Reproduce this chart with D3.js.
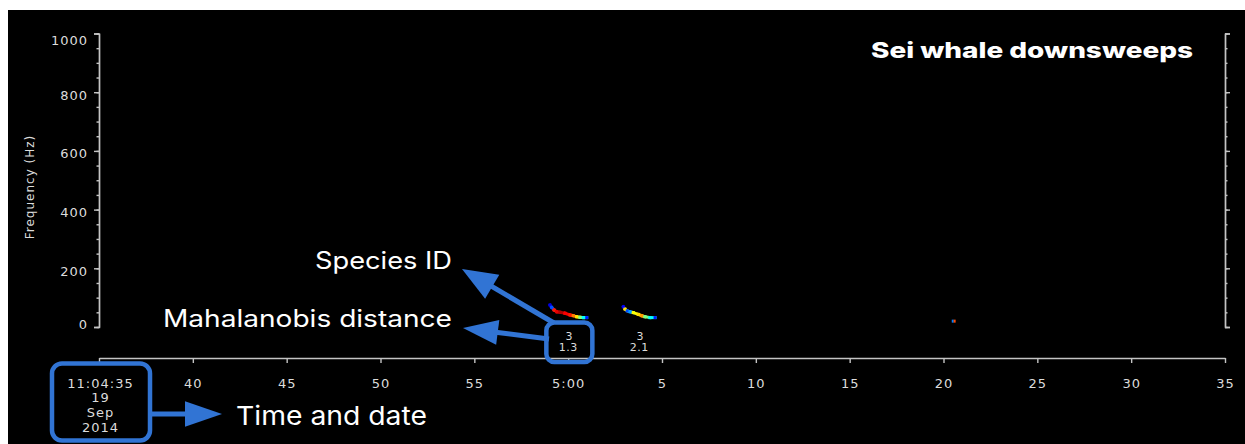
<!DOCTYPE html>
<html>
<head>
<meta charset="utf-8">
<script src="https://cdn.jsdelivr.net/npm/d3@7"></script>
<style>
  html, body { margin: 0; padding: 0; background: #fff; }
  svg { display: block; }
</style>
</head>
<body>
<svg id="chart" width="1245" height="444"></svg>
<script>
// ---------------- DATA ----------------
const startTime = new Date(2014, 8, 19, 11, 4, 35);
const endTime   = new Date(2014, 8, 19, 11, 5, 35);
const freqMajorTicks = [0, 200, 400, 600, 800, 1000];
const freqMinorTicks = d3.range(0, 1001, 50);
const freqTickLabels = ["0", "200", "400", "600", "800", "1000"];
const timeTickStepSec = 5;
const dateLabelLines = ["11:04:35", "19", "Sep", "2014"];

// detection contours: [seconds after start, frequency Hz, intensity 0..1]
const det1Points = [
  [24.03, 75, 0.10], [24.12, 67, 0.20], [24.25, 58, 0.85], [24.39, 52, 0.90],
  [24.57, 50, 0.95], [24.83, 47, 0.88], [25.10, 41, 0.85], [25.27, 38.5, 0.75],
  [25.45, 35, 0.65], [25.63, 33, 0.50], [25.81, 32, 0.38], [25.99, 32, 0.15]
];
const det2Points = [
  [27.94, 69, 0.12], [28.03, 61, 0.65], [28.15, 55, 0.20], [28.29, 52, 0.28],
  [28.47, 49, 0.62], [28.74, 43, 0.66], [28.92, 38.5, 0.72], [29.09, 35, 0.50],
  [29.36, 32, 0.38], [29.63, 32, 0.15]
];
const det3Points = [
  [45.52, 20, 0.25], [45.62, 20, 0.80]
];
const detectionSpecies = ["3", "3"];
const detectionDistance = ["1.3", "2.1"];
const titleText = "Sei whale downsweeps";
const yTitle = "Frequency (Hz)";

// ---------------- LAYOUT ----------------
const svg = d3.select("#chart");
const plotLeft = 99, plotRight = 1225, yTop = 33.5, yBottom = 327, xAxisY = 358;
const axisColor = "#c4c4c4", textColor = "#dcdcdc", blue = "#3174d4";

svg.append("rect").attr("x", 8).attr("y", 10).attr("width", 1237).attr("height", 434).attr("fill", "#000");

const x = d3.scaleTime().domain([startTime, endTime]).range([plotLeft, plotRight]);
const y = d3.scaleLinear().domain([0, 1000]).range([yBottom, yTop]);
const tsec = s => new Date(startTime.getTime() + s * 1000);

// ---- Y axis left (minor) ----
svg.append("g").attr("transform", `translate(${plotLeft},0)`)
  .call(d3.axisLeft(y).tickValues(freqMinorTicks).tickSize(2.5).tickSizeOuter(0).tickFormat(""));
const gL = svg.append("g").attr("transform", `translate(${plotLeft},0)`)
  .call(d3.axisLeft(y).tickValues(freqMajorTicks).tickSize(5).tickSizeOuter(5)
    .tickFormat((d, i) => freqTickLabels[i]));
gL.selectAll("text")
  .attr("x", -11)
  .attr("dy", null)
  .attr("y", d => (d === 1000 ? 6.5 : d === 0 ? -3 : 2.3) + 4.7)
  .style("font-family", "DejaVu Sans").style("font-size", "13px")
  .style("letter-spacing", "1px").attr("fill", textColor);

// ---- Y axis right ----
svg.append("g").attr("transform", `translate(${plotRight},0)`)
  .call(d3.axisRight(y).tickValues(freqMinorTicks).tickSize(2.5).tickSizeOuter(0).tickFormat(""));
svg.append("g").attr("transform", `translate(${plotRight},0)`)
  .call(d3.axisRight(y).tickValues(freqMajorTicks).tickSize(5).tickSizeOuter(5).tickFormat(""));

// ---- X axis ----
const xTicks = d3.timeSecond.every(timeTickStepSec).range(startTime, new Date(endTime.getTime() + 1));
const gX = svg.append("g").attr("transform", `translate(0,${xAxisY})`)
  .call(d3.axisBottom(x).tickValues(xTicks).tickSize(5).tickSizeOuter(0).tickFormat(""));
gX.selectAll(".tick").each(function (d, i) {
  const t = d3.select(this).append("text")
    .attr("fill", textColor).attr("text-anchor", "middle")
    .style("font-family", "DejaVu Sans").style("font-size", "13px")
    .style("letter-spacing", "1px");
  if (i === 0) {
    dateLabelLines.forEach((line, j) => {
      t.append("tspan").attr("x", 1).attr("y", 29.7 + j * 14.7).text(line);
    });
  } else {
    const s = d.getSeconds();
    t.attr("x", 0).attr("y", 29.7).text(s === 0 ? `${d.getMinutes()}:00` : String(s));
  }
});

// style axes
svg.selectAll(".domain, .tick line").attr("stroke", axisColor).attr("stroke-width", 1.4);

// ---- Y title ----
svg.append("text")
  .attr("transform", "translate(34,187) rotate(-90)")
  .attr("text-anchor", "middle").attr("fill", textColor)
  .style("font-family", "DejaVu Sans").style("font-size", "12px").style("letter-spacing", "1px")
  .text(yTitle);

// ---- detections ----
function jet(v) {
  const c = t => Math.max(0, Math.min(1, t));
  const r = c(1.5 - Math.abs(4 * v - 3)), g = c(1.5 - Math.abs(4 * v - 2)), b = c(1.5 - Math.abs(4 * v - 1));
  return d3.rgb(r * 255, g * 255, b * 255).toString();
}
const dets = [det1Points, det2Points, det3Points];
dets.forEach((pts, k) => {
  const segs = d3.pairs(pts);
  const g = svg.append("g");
  if (k < 2) {
    g.selectAll("line").data(segs).join("line")
      .attr("x1", d => x(tsec(d[0][0]))).attr("y1", d => y(d[0][1]))
      .attr("x2", d => x(tsec(d[1][0]))).attr("y2", d => y(d[1][1]))
      .attr("stroke", d => jet(d[0][2])).attr("stroke-width", 3)
      .attr("stroke-linecap", "square");
  }
  g.selectAll("rect").data(pts).join("rect")
    .attr("x", d => x(tsec(d[0])) - 1.5).attr("y", d => y(d[1]) - 1.5)
    .attr("width", k === 2 ? 2 : 3).attr("height", 3)
    .attr("fill", d => jet(d[2]));
});

// detection labels (species id / distance)
const detMid = [det1Points, det2Points].map(p => x(tsec((p[0][0] + p[p.length - 1][0]) / 2)));
detMid.forEach((mx, i) => {
  const g = svg.append("g").attr("fill", textColor).attr("text-anchor", "middle")
    .style("font-family", "DejaVu Sans").style("font-size", "11px").style("letter-spacing", "0.5px");
  g.append("text").attr("x", mx + 1).attr("y", 339.7).text(detectionSpecies[i]);
  g.append("text").attr("x", mx).attr("y", 351.3).text(detectionDistance[i]);
});

// ---- title ----
svg.append("text").attr("x", 871).attr("y", 58).attr("fill", "#fff")
  .style("font-family", "Inter, 'Open Sans', sans-serif").style("font-weight", "800").style("font-size", "22px")
  .attr("textLength", 322).attr("lengthAdjust", "spacingAndGlyphs")
  .text(titleText);

// ---- annotations ----
const annFont = "Inter, 'Open Sans', sans-serif";
function annText(txt, x0, base, size, len) {
  svg.append("text").attr("x", x0).attr("y", base).attr("fill", "#fff")
    .style("font-family", annFont).style("font-size", size + "px")
    .attr("textLength", len).attr("lengthAdjust", "spacingAndGlyphs").text(txt);
}
annText("Species ID", 315, 268.5, 24, 137);
annText("Mahalanobis distance", 163, 327, 24, 289);
annText("Time and date", 236, 425, 26, 191);

function arrow(x1, y1, x2, y2, headLen, headHalf, w) {
  const dx = x2 - x1, dy = y2 - y1, L = Math.hypot(dx, dy);
  const ux = dx / L, uy = dy / L;
  const bx = x2 - ux * headLen, by = y2 - uy * headLen;
  svg.append("line").attr("x1", x1).attr("y1", y1).attr("x2", bx + ux * 2).attr("y2", by + uy * 2)
    .attr("stroke", blue).attr("stroke-width", w);
  svg.append("path")
    .attr("d", `M${x2},${y2}L${bx - uy * headHalf},${by + ux * headHalf}L${bx + uy * headHalf},${by - ux * headHalf}Z`)
    .attr("fill", blue);
}

// box around date label
const x0px = x(startTime);
svg.append("rect").attr("x", x0px - 47).attr("y", 363.5).attr("width", 98).attr("height", 77)
  .attr("rx", 10).attr("fill", "none").attr("stroke", blue).attr("stroke-width", 4.5);
// box around detection 1 label
svg.append("rect").attr("x", detMid[0] - 22).attr("y", 322.5).attr("width", 46).attr("height", 39.5)
  .attr("rx", 8).attr("fill", "none").attr("stroke", blue).attr("stroke-width", 4.5);

arrow(152, 414, 222, 414, 37, 12.7, 5);
arrow(554, 323, 462, 269, 35, 14, 5);
arrow(549, 339, 463, 328, 35, 12.5, 5);
</script>
</body>
</html>
